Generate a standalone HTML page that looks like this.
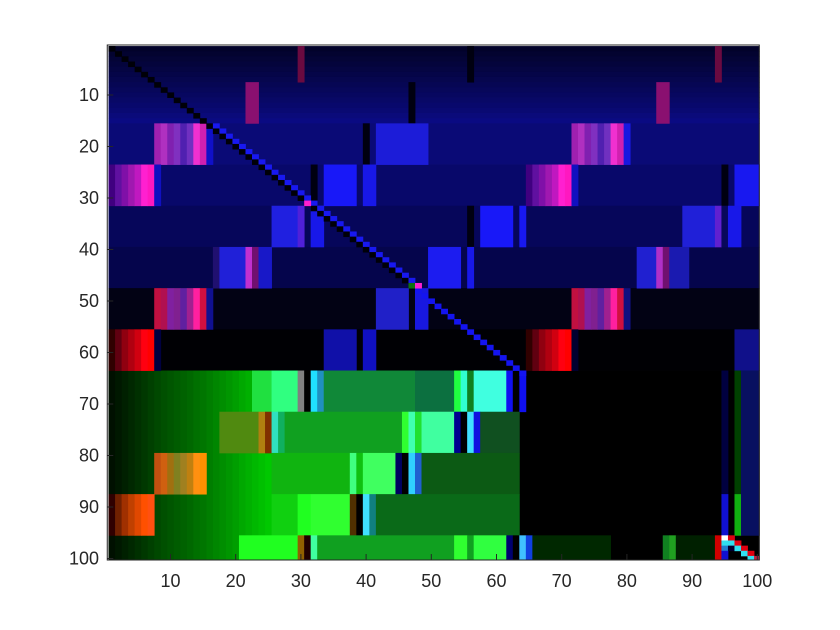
<!DOCTYPE html>
<html><head><meta charset="utf-8"><style>
html,body{margin:0;padding:0;background:#fff;}
svg{display:block;font-family:"Liberation Sans",sans-serif;}
</style></head><body>
<svg id="chart" width="840" height="630" viewBox="0 0 840 630" xmlns="http://www.w3.org/2000/svg">
<rect width="840" height="630" fill="#ffffff"/>
<g id="cells"></g>
<g id="axes"></g>
</svg>
<script>
// ---- data (matrix indices: columns 1..100, rows 1..100) ----
const xTicks = [10,20,30,40,50,60,70,80,90,100];
const yTicks = [10,20,30,40,50,60,70,80,90,100];
const topRowColors = ['#02022a','#030330','#040436','#04043c','#050542','#050548','#06064e','#060654','#07075a','#070760','#080866','#08086c','#090972','#0a0a7a','#0a0a82'];
const bandRows = [[16,23],[24,31],[32,39],[40,47],[48,55],[56,63],[64,100]];
const bandColors = ['#0a0a76','#08086a','#06065a','#05054c','#020214','#000004','#000000'];
const greenRamp = ['#001000','#001800','#002000','#002800','#003000','#003800','#004000','#004800','#005000','#005600','#005c00','#006200','#006800','#007000','#007600','#007e00','#008600','#008e00','#009600','#009e00','#00a800','#00b000','#00b800','#00c000','#00c800'];
const magA = ['#a020b0','#b030c0','#8020b0','#8030c0','#5020b0','#7030c0','#f030d0','#d020b0'];
const magB = ['#400080','#6010a0','#8010a8','#a018b0','#c018c0','#ff20d0','#ff18c0'];
const redA = ['#c01040','#b01050','#8020a0','#802090','#6020a0','#a02090','#ff20a0','#d01040'];
const redB = ['#300000','#600010','#900010','#b00010','#d00010','#ff0010','#ff0000'];
const orangeA = ['#c05010','#d06010','#a07010','#808020','#a08020','#c08010','#ff9010','#ff9000'];
const orangeB = ['#300000','#702000','#a03000','#c04000','#e04800','#ff5000','#ff5010'];
const stripeSets = [[magA,8,16,23],[magA,72,16,23],[magB,1,24,31],[magB,65,24,31],[redA,8,48,55],[redA,72,48,55],[redB,1,56,63],[redB,65,56,63],[orangeA,8,80,87],[orangeB,1,88,95]];
const blocks = [
[30,30,1,7,'#6a0a40'],[94,94,1,7,'#6a0a40'],[56,56,1,7,'#000010'],
[22,23,8,15,'#8a1070'],[85,86,8,15,'#8a1070'],[47,47,8,15,'#000010'],
[16,16,16,23,'#1010c8'],[40,40,16,23,'#000010'],[42,49,16,23,'#1c1cd8'],[80,80,16,23,'#1818e0'],
[8,8,24,31,'#1010c0'],[32,32,24,31,'#000010'],[34,38,24,31,'#1818f8'],[40,41,24,31,'#1818e8'],[72,72,24,31,'#1010c0'],[95,95,24,31,'#000010'],[97,100,24,31,'#1818f0'],
[26,29,32,39,'#2020e0'],[30,30,32,39,'#5020d8'],[32,33,32,39,'#1818e8'],[56,56,32,39,'#000010'],[58,62,32,39,'#1818f8'],[64,64,32,39,'#1818f0'],[89,93,32,39,'#2020d8'],[94,94,32,39,'#6020d0'],[95,95,32,39,'#08085a'],[96,97,32,39,'#1818e8'],
[17,17,40,47,'#201070'],[18,21,40,47,'#2020d8'],[22,22,40,47,'#c030d0'],[23,23,40,47,'#701070'],[24,25,40,47,'#1818c8'],[50,54,40,47,'#1c1cf0'],[56,56,40,47,'#1818e8'],[82,84,40,47,'#2020d0'],[85,85,40,47,'#b030c8'],[86,86,40,47,'#701070'],[87,89,40,47,'#1a1ab0'],
[16,16,48,55,'#101090'],[42,46,48,55,'#2020c8'],[48,49,48,55,'#1818e0'],[80,80,48,55,'#101080'],
[8,8,56,63,'#000040'],[34,38,56,63,'#1010a8'],[40,41,56,63,'#1010c0'],[72,72,56,63,'#000030'],[97,100,56,63,'#10108a'],
[23,25,64,71,'#20e040'],[26,29,64,71,'#30ff80'],[30,30,64,71,'#808080'],[31,31,64,71,'#000000'],[32,32,64,71,'#20e0ff'],[33,33,64,71,'#2090c0'],[34,47,64,71,'#108838'],[48,53,64,71,'#0c7040'],[54,54,64,71,'#20ff40'],[55,55,64,71,'#30ffd0'],[56,56,64,71,'#108020'],[57,61,64,71,'#40ffe0'],[62,62,64,71,'#1010f0'],[63,63,64,71,'#000000'],[64,64,64,71,'#1010f0'],
[18,23,72,79,'#508a10'],[24,24,72,79,'#b08010'],[25,25,72,79,'#803000'],[26,26,72,79,'#30e0c0'],[27,27,72,79,'#10b060'],[28,45,72,79,'#10a020'],[46,46,72,79,'#30ff30'],[47,47,72,79,'#40ffb0'],[48,48,72,79,'#20e030'],[49,53,72,79,'#40ffa0'],[54,54,72,79,'#000090'],[55,55,72,79,'#000000'],[56,56,72,79,'#40e0ff'],[57,57,72,79,'#1010e0'],[58,63,72,79,'#105020'],
[26,37,80,87,'#10b410'],[38,38,80,87,'#40ff80'],[39,39,80,87,'#10c010'],[40,44,80,87,'#40ff60'],[45,45,80,87,'#000060'],[46,46,80,87,'#000000'],[47,47,80,87,'#30d0ff'],[48,48,80,87,'#2060d0'],[49,63,80,87,'#0c5a14'],
[26,29,88,95,'#10d010'],[30,31,88,95,'#20ff20'],[32,37,88,95,'#30ff30'],[38,38,88,95,'#503000'],[39,39,88,95,'#000000'],[40,40,88,95,'#40e0ff'],[41,41,88,95,'#108080'],[42,63,88,95,'#0a6a18'],
[21,29,96,100,'#20ff20'],[30,30,96,100,'#906000'],[31,31,96,100,'#200000'],[32,32,96,100,'#40ffa0'],[33,53,96,100,'#10a020'],[54,55,96,100,'#30ff30'],[56,56,96,100,'#10a020'],[57,61,96,100,'#30ff40'],[62,62,96,100,'#000070'],[63,63,96,100,'#000000'],[64,64,96,100,'#40c0ff'],[65,65,96,100,'#1040e0'],[66,77,96,100,'#002800'],[86,86,96,100,'#108020'],[87,87,96,100,'#20a020'],[88,93,96,100,'#002000'],[94,94,96,100,'#d00000'],
[95,95,64,87,'#000040'],[95,95,88,95,'#1010d0'],[97,97,64,87,'#004000'],[97,97,88,95,'#10b010'],[98,100,64,95,'#081060'],
[95,95,96,96,'#ffffff'],[96,96,96,96,'#e00010'],[95,96,97,97,'#30e0f0'],[97,97,97,97,'#e00010'],[95,95,98,98,'#2080d0'],[96,96,98,98,'#000030'],[97,97,98,98,'#30e0f0'],[98,98,98,98,'#e00010'],[95,95,99,100,'#1010d0'],[98,98,99,99,'#30e0f0'],[99,99,99,99,'#e00010'],[99,99,100,100,'#30e0f0'],[100,100,100,100,'#c02040']
];
const diagUpper = 47;
const diagLower = 64;
const diagSpecial = [[31,31,'#ff20d0'],[47,47,'#107010'],[47,48,'#ff20d0']];

// ---- axis functions ----
const X0 = 170.5, XS = 6.52, Y0 = 95, YS = 5.15;
const xScale = v => X0 + (v - 10) * XS;
const yScale = v => Y0 + (v - 10) * YS;
const L = xScale(0.3), R = xScale(100.3), T = 45, B = 560;
const NS = 'http://www.w3.org/2000/svg';
const cellsG = document.getElementById('cells');
const axesG = document.getElementById('axes');
function cell(c0, c1, r0, r1, color, name) {
  const x0 = Math.max(L, xScale(c0 - 0.5)), x1 = Math.min(R, xScale(c1 + 0.5));
  const y0 = Math.max(T, yScale(r0 - 0.5)), y1 = Math.min(B, yScale(r1 + 0.5));
  const r = document.createElementNS(NS, 'rect');
  r.setAttribute('x', x0.toFixed(2)); r.setAttribute('y', y0.toFixed(2));
  r.setAttribute('width', (x1 - x0 + 0.4).toFixed(2)); r.setAttribute('height', (y1 - y0 + 0.4).toFixed(2));
  r.setAttribute('fill', color);
  
  
  cellsG.appendChild(r);
}
topRowColors.forEach((c, i) => cell(1, 100, i + 1, i + 1, c, 'top-row-' + (i + 1)));
bandRows.forEach((b, i) => cell(1, 100, b[0], b[1], bandColors[i], 'row-band-' + b[0]));
greenRamp.forEach((c, i) => cell(i + 1, i + 1, 64, 100, c, 'green-ramp-col-' + (i + 1)));
stripeSets.forEach(s => s[0].forEach((c, i) => cell(s[1] + i, s[1] + i, s[2], s[3], c, 'stripe-cell')));
blocks.forEach(b => cell(b[0], b[1], b[2], b[3], b[4], 'block-cell'));
for (let i = 1; i <= diagLower; i++) {
  if (i <= diagUpper) {
    cell(i, i, i, i, '#000008', 'diagonal-cell');
    if (i >= 16) cell(i + 1, i + 1, i, i, '#1818f0', 'diagonal-neighbor-cell');
  } else {
    cell(i, i, i, i, '#1414f0', 'diagonal-cell');
  }
}
diagSpecial.forEach(d => cell(d[1], d[1], d[0], d[0], d[2], 'diagonal-special-cell'));

// ---- axes ----
const box = document.createElementNS(NS, 'rect');
box.setAttribute('x', L); box.setAttribute('y', T);
box.setAttribute('width', R - L); box.setAttribute('height', B - T);
box.setAttribute('fill', 'none'); box.setAttribute('stroke', '#262626'); box.setAttribute('stroke-width', '1');


axesG.appendChild(box);
xTicks.forEach(t => {
  const x = xScale(t);
  const ln = document.createElementNS(NS, 'line');
  ln.setAttribute('x1', x); ln.setAttribute('x2', x); ln.setAttribute('y1', B); ln.setAttribute('y2', B - 6);
  ln.setAttribute('stroke', '#262626');
  
  
  axesG.appendChild(ln);
  const tx = document.createElementNS(NS, 'text');
  tx.setAttribute('x', x); tx.setAttribute('y', 587); tx.setAttribute('text-anchor', 'middle');
  tx.setAttribute('font-size', '18'); tx.setAttribute('fill', '#262626');
  tx.textContent = t;
  
  
  axesG.appendChild(tx);
});
yTicks.forEach(t => {
  const y = yScale(t);
  const ln = document.createElementNS(NS, 'line');
  ln.setAttribute('x1', L); ln.setAttribute('x2', L + 6); ln.setAttribute('y1', y); ln.setAttribute('y2', y);
  ln.setAttribute('stroke', '#262626');
  
  
  axesG.appendChild(ln);
  const tx = document.createElementNS(NS, 'text');
  tx.setAttribute('x', 99); tx.setAttribute('y', y + 6); tx.setAttribute('text-anchor', 'end');
  tx.setAttribute('font-size', '18'); tx.setAttribute('fill', '#262626');
  tx.textContent = t;
  
  
  axesG.appendChild(tx);
});
</script>
</body></html>
